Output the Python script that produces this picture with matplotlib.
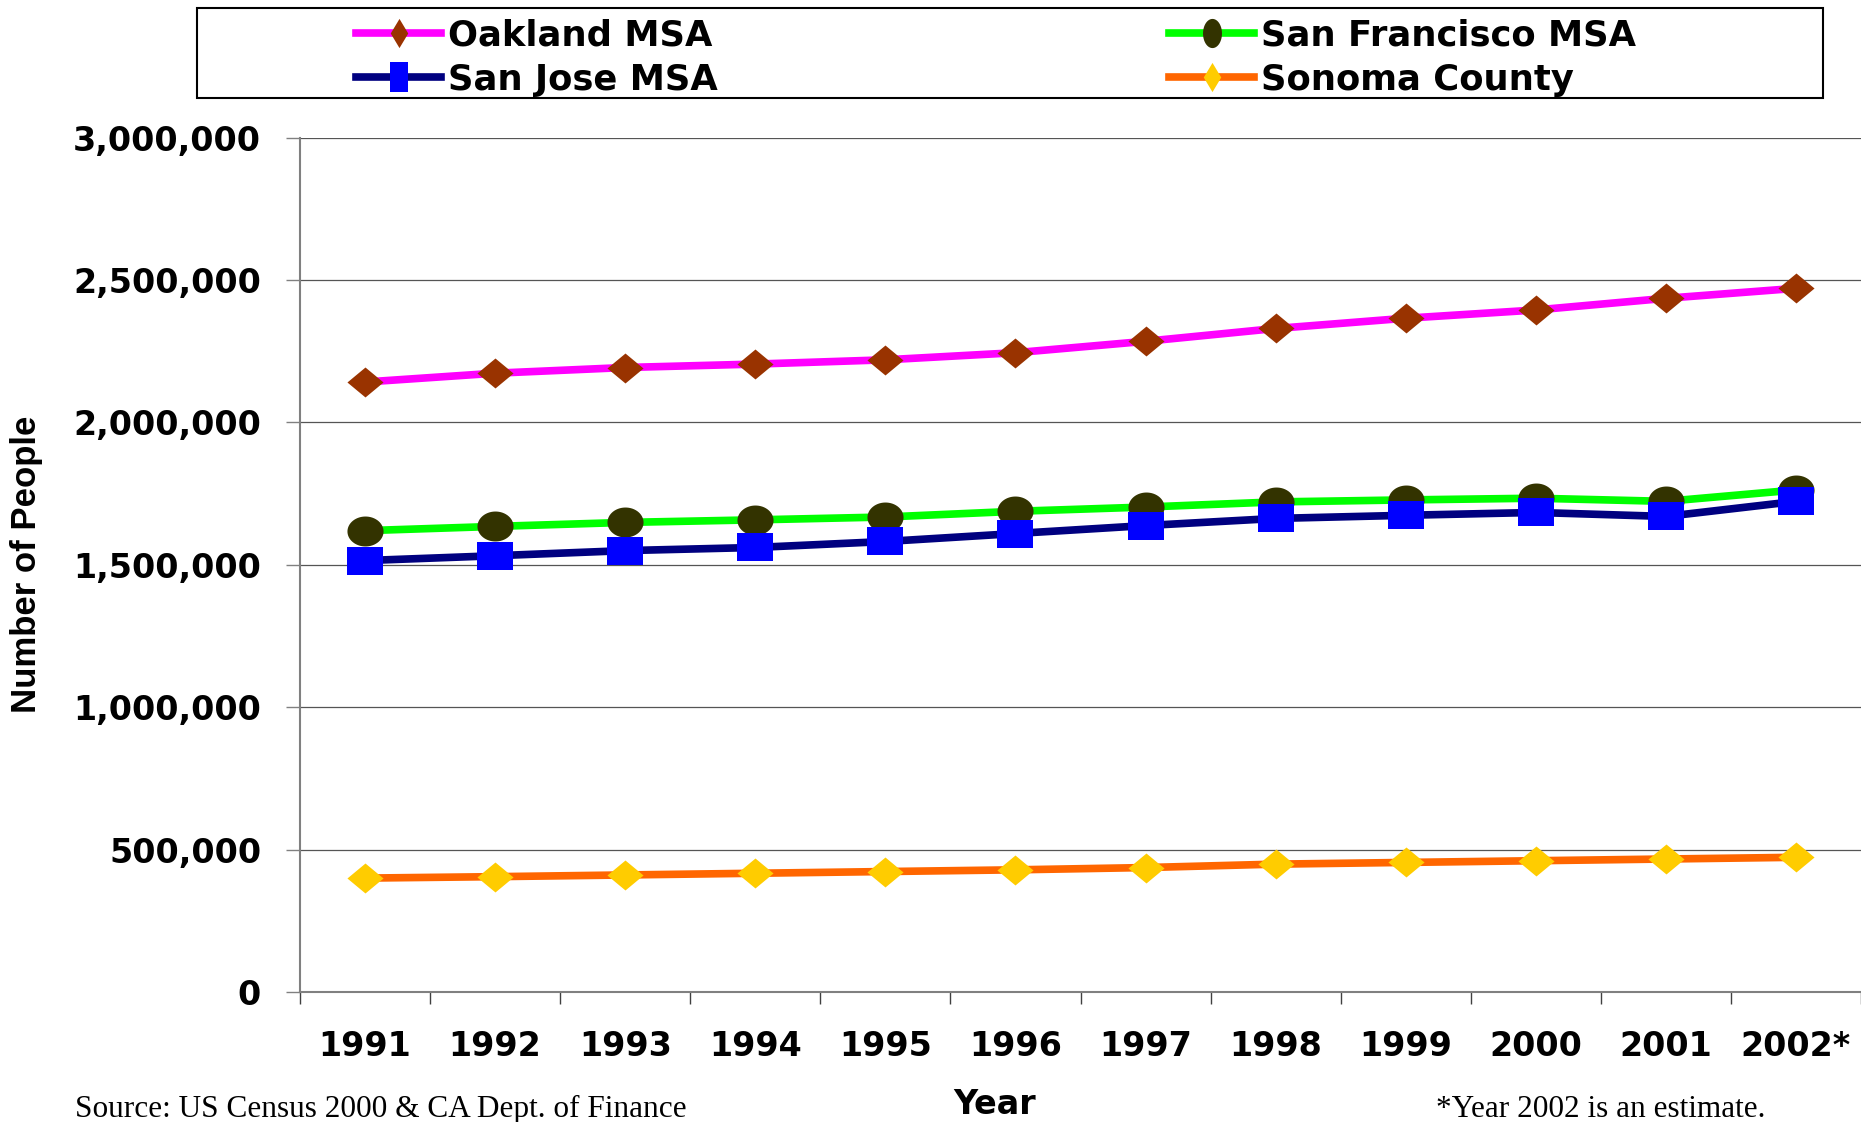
import matplotlib.pyplot as plt
import numpy as np
from matplotlib.lines import Line2D
from matplotlib.patches import Rectangle
from matplotlib.ticker import FuncFormatter

# Population by year
years = ['1991', '1992', '1993', '1994', '1995', '1996',
         '1997', '1998', '1999', '2000', '2001', '2002*']
oakland = [2142000, 2173000, 2193000, 2205000, 2220000, 2245000,
           2285000, 2330000, 2366000, 2395000, 2436000, 2471000]
san_francisco = [1620000, 1635000, 1649000, 1658000, 1668000, 1688000,
                 1703000, 1721000, 1728000, 1734000, 1723000, 1763000]
san_jose = [1515000, 1532000, 1550000, 1561000, 1582000, 1610000,
            1638000, 1663000, 1674000, 1684000, 1670000, 1723000]
sonoma = [400000, 405000, 411000, 417000, 423000, 429000,
          437000, 449000, 455000, 461000, 467000, 473000]

# Marker shapes (slightly wider than tall in the plot, tall in the legend)
def diamond(w, h):
    return [(-w, 0), (0, h), (w, 0), (0, -h), (-w, 0)]

def ellipse(w, h):
    t = np.linspace(0, 2 * np.pi, 60)
    return list(zip(w * np.cos(t), h * np.sin(t)))

def rect(w, h):
    return [(-w, -h), (w, -h), (w, h), (-w, h), (-w, -h)]

series = [
    ('Oakland MSA', oakland, '#FF00FF', '#993300', diamond(1, 0.83), diamond(0.6, 1)),
    ('San Francisco MSA', san_francisco, '#00FF00', '#333300', ellipse(1, 0.83), ellipse(0.65, 1)),
    ('San Jose MSA', san_jose, '#000080', '#0000FF', rect(1, 0.8), rect(0.6, 1)),
    ('Sonoma County', sonoma, '#FF6600', '#FFCC00', diamond(1, 0.83), diamond(0.6, 1)),
]

W, H = 1861, 1122
fig = plt.figure(figsize=(W / 100, H / 100), dpi=100)
ax = fig.add_axes([300 / W, 1 - 992 / H, 1561 / W, (992 - 137.7) / H])

x = np.arange(len(years)) + 0.5
handles = {}
for name, vals, lc, mc, mk, lmk in series:
    ax.plot(x, vals, color=lc, lw=5.5, marker=mk, ms=26, mfc=mc, mec=mc,
            mew=0, solid_capstyle='butt', clip_on=False)
    handles[name] = Line2D([], [], color=lc, lw=5.5, marker=lmk, ms=21,
                           mfc=mc, mec=mc, mew=0)

ax.set_xlim(0, len(years))
ax.set_ylim(0, 3000000)

ax.set_yticks(np.arange(0, 3000001, 500000))
ax.yaxis.set_major_formatter(FuncFormatter(lambda v, p: f'{int(v):,}'))
ax.tick_params(axis='y', length=10, width=1, color='#808080', pad=18, labelsize=24)
for lab in ax.get_yticklabels():
    lab.set_fontweight('bold')

ax.set_xticks(np.arange(len(years) + 1))
ax.set_xticklabels([])
ax.set_xticks(x, minor=True)
ax.set_xticklabels(years, minor=True, fontsize=24, fontweight='bold')
ax.tick_params(axis='x', which='major', length=8.6, width=1, color='#404040')
ax.tick_params(axis='x', which='minor', length=0, pad=27.5)

ax.yaxis.grid(True, color='#555555', lw=0.9)
ax.set_axisbelow(True)
for s in ['top', 'right']:
    ax.spines[s].set_visible(False)
for s in ['left', 'bottom']:
    ax.spines[s].set_color('#808080')
    ax.spines[s].set_linewidth(1.5)

fig.text(27 / W, 1 - 564 / H, 'Number of People', rotation=90, family='Liberation Sans',
         fontweight='bold', fontsize=25, ha='center', va='center')
fig.text(995 / W, 1 - 1104 / H, 'Year', fontsize=24, fontweight='bold',
         ha='center', va='center')
fig.text(75 / W, 1 - 1117 / H, 'Source: US Census 2000 & CA Dept. of Finance',
         family='Liberation Serif', fontsize=22.5, va='baseline')
fig.text(1765 / W, 1 - 1117 / H, '*Year 2002 is an estimate.',
         family='Liberation Serif', fontsize=22.5, va='baseline', ha='right')

# Legend: framed box with two columns placed by hand
fig.add_artist(Rectangle((197 / W, 1 - 98 / H), (1823 - 197) / W, 90 / H,
                         transform=fig.transFigure, fill=False, ec='black', lw=1.5))
legend_kw = dict(loc='upper left', frameon=False, borderpad=0, borderaxespad=0,
                 handlelength=2.4, handletextpad=0.2, labelspacing=0.3,
                 prop={'weight': 'bold', 'size': 25.5})
for col, xpos in [(['Oakland MSA', 'San Jose MSA'], 356),
                  (['San Francisco MSA', 'Sonoma County'], 1169)]:
    fig.legend([handles[n] for n in col], col,
               bbox_to_anchor=(xpos / W, 1 - 18 / H), **legend_kw)

fig.savefig('out.png', dpi=100)
